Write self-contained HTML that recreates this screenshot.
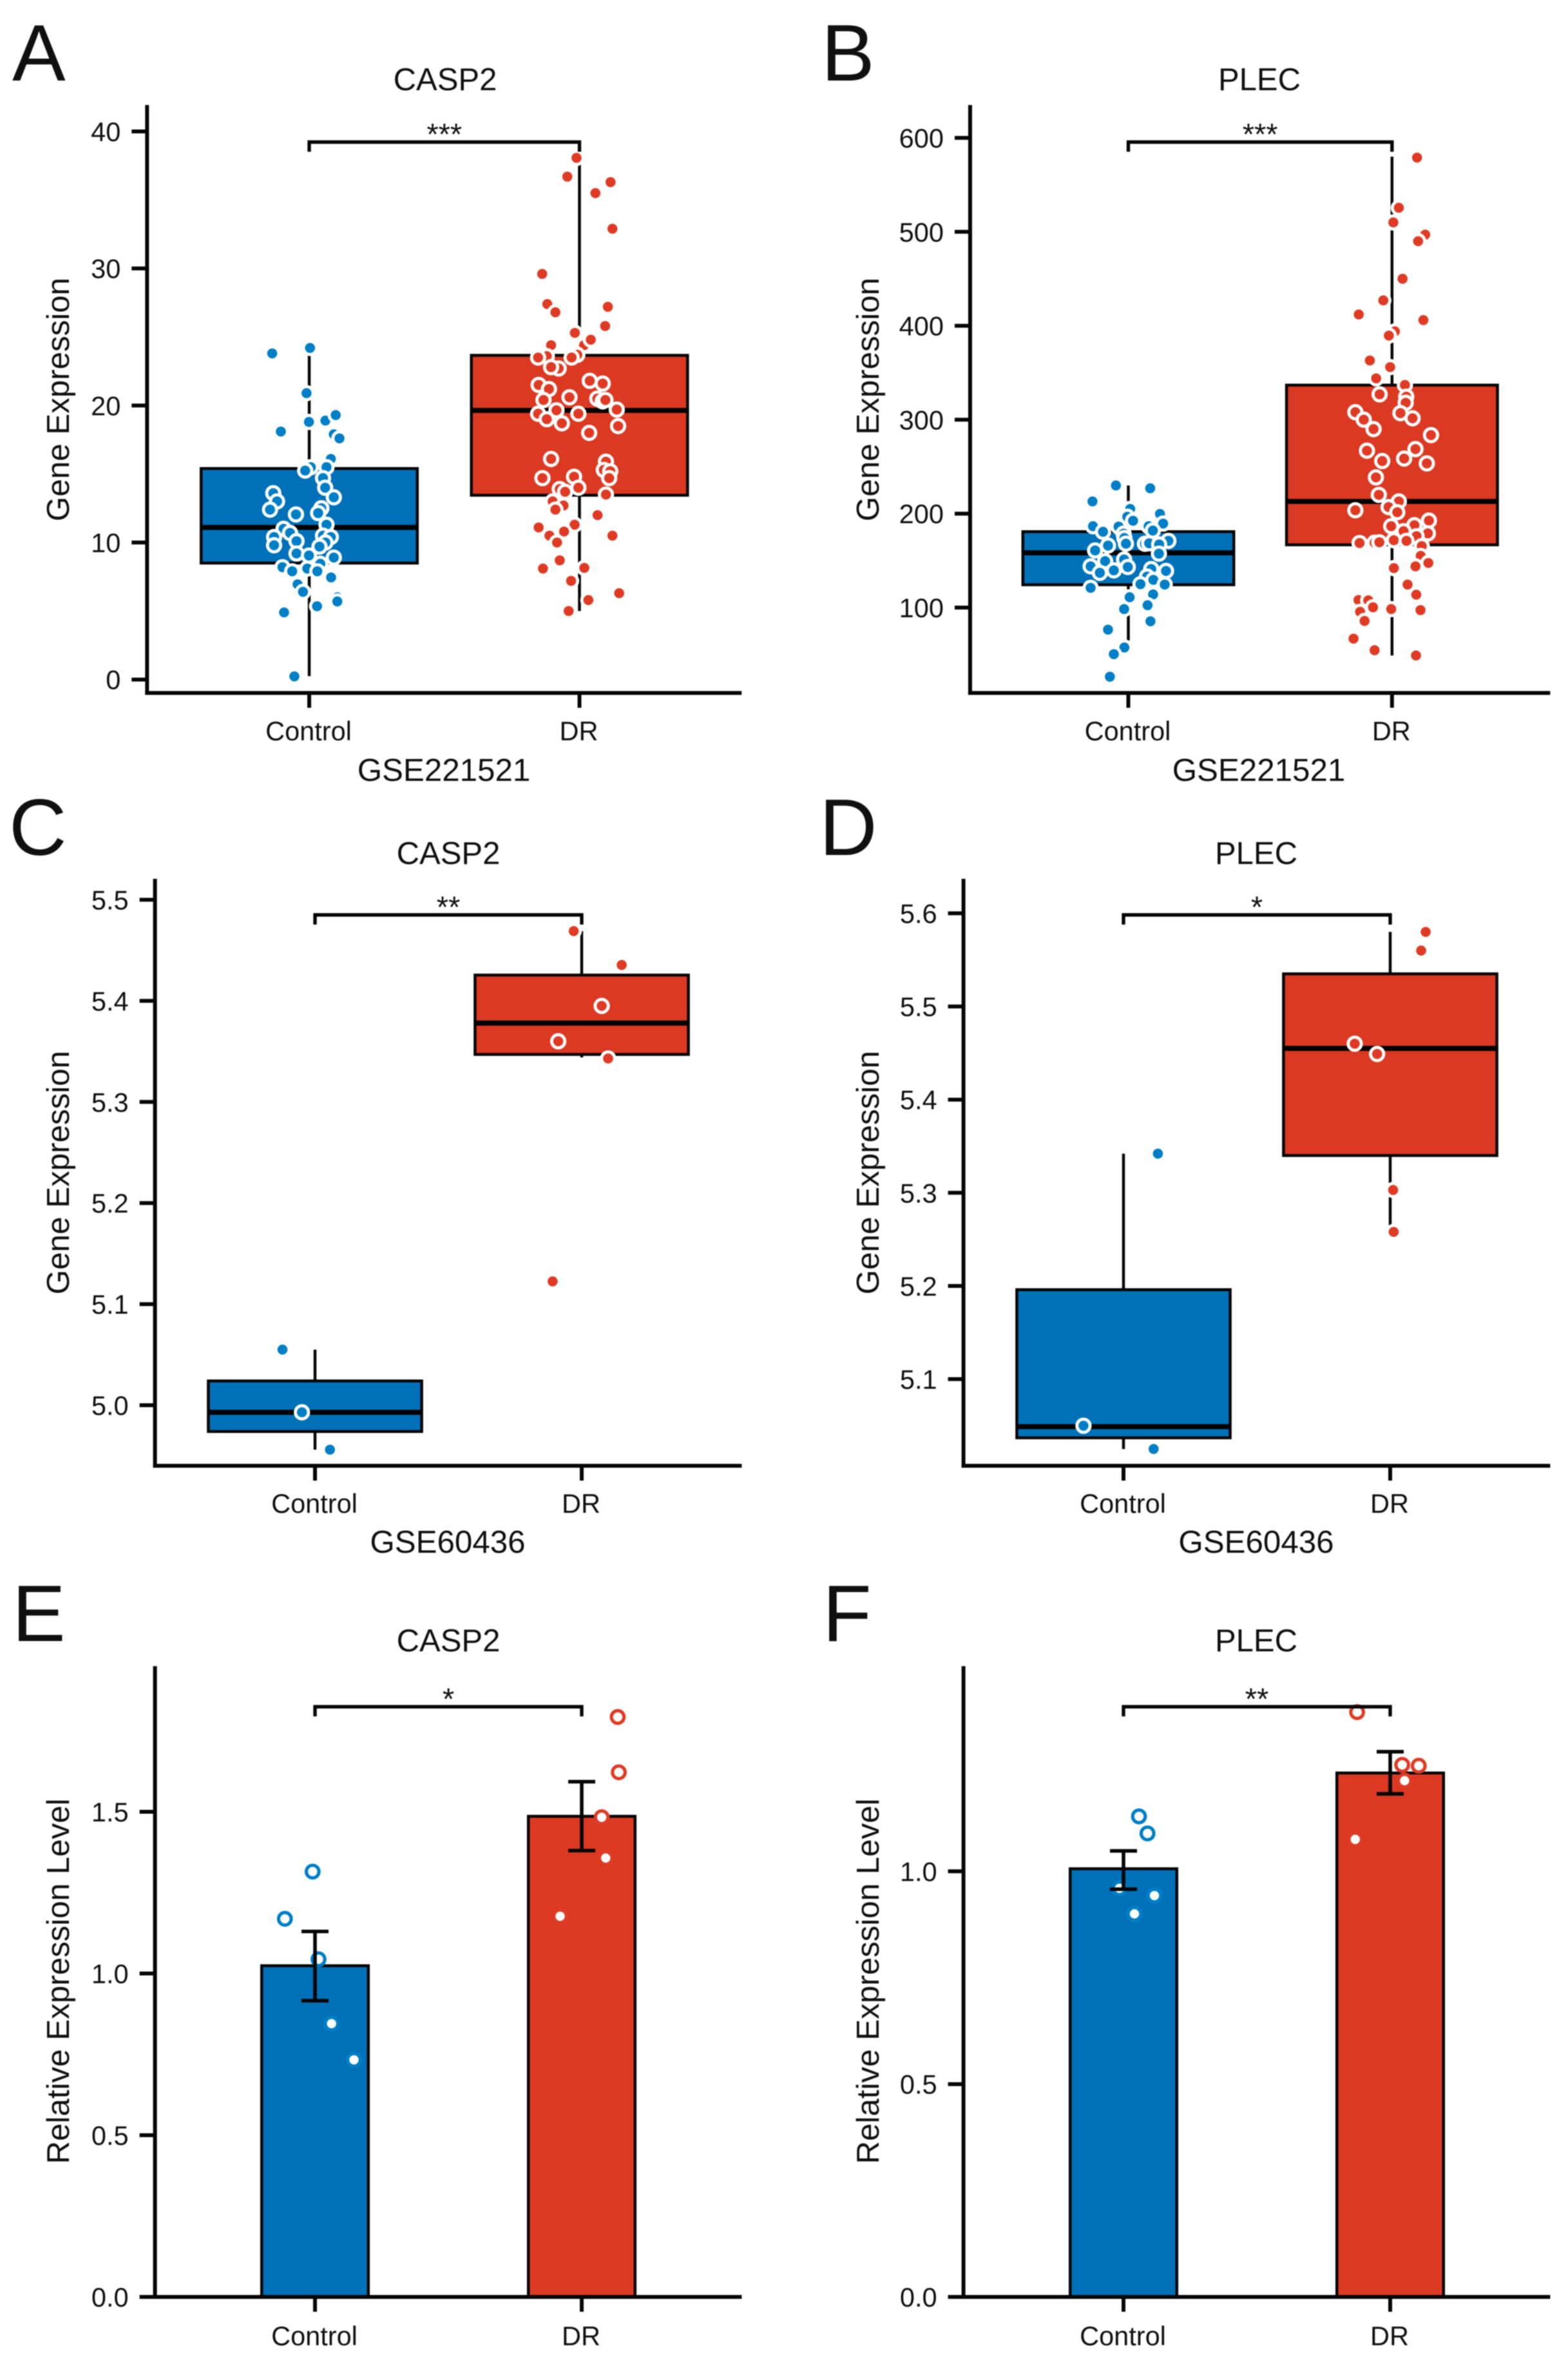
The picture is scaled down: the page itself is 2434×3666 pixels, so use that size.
<!DOCTYPE html>
<html lang="en">
<head>
<meta charset="utf-8">
<title>CASP2 and PLEC expression panels</title>
<style>
  html, body { margin: 0; padding: 0; background: #fff; }
  svg { display: block; filter: blur(0.7px); }
  text { font-family: "Liberation Sans", Arial, sans-serif; fill: #101010; }
  .letter { font-size: 124px; }
  .title { font-size: 49px; text-anchor: middle; }
  .axis-title { font-size: 49.3px; text-anchor: middle; }
  .tick-label { font-size: 41.5px; }
  .stars { font-size: 47px; text-anchor: middle; }
</style>
</head>
<body>
<svg id="figure" xmlns="http://www.w3.org/2000/svg" width="2434" height="3666" viewBox="0 0 2434 3666">
  <rect width="2434" height="3666" fill="#ffffff"/>

  <g id="panel-a">
    <text class="letter" x="19" y="125">A</text>
    <text class="title" x="691" y="140">CASP2</text>
    <text class="axis-title" transform="translate(107,620) rotate(-90)">Gene Expression</text>
    <text class="axis-title" x="689" y="1212">GSE221521</text>
  </g>
  <g id="panel-b">
    <text class="letter" x="1275" y="125">B</text>
    <text class="title" x="1955" y="140">PLEC</text>
    <text class="axis-title" transform="translate(1364,620) rotate(-90)">Gene Expression</text>
    <text class="axis-title" x="1954" y="1212">GSE221521</text>
  </g>
  <g id="panel-c">
    <text class="letter" x="14" y="1327">C</text>
    <text class="title" x="696" y="1341">CASP2</text>
    <text class="axis-title" transform="translate(107,1820) rotate(-90)">Gene Expression</text>
    <text class="axis-title" x="695" y="2410">GSE60436</text>
  </g>
  <g id="panel-d">
    <text class="letter" x="1272" y="1327">D</text>
    <text class="title" x="1950" y="1341">PLEC</text>
    <text class="axis-title" transform="translate(1364,1820) rotate(-90)">Gene Expression</text>
    <text class="axis-title" x="1950" y="2410">GSE60436</text>
  </g>
  <g id="panel-e">
    <text class="letter" x="19" y="2547">E</text>
    <text class="title" x="696" y="2563">CASP2</text>
    <text class="axis-title" transform="translate(107,3075) rotate(-90)">Relative Expression Level</text>
  </g>
  <g id="panel-f">
    <text class="letter" x="1277" y="2547">F</text>
    <text class="title" x="1950" y="2563">PLEC</text>
    <text class="axis-title" transform="translate(1364,3075) rotate(-90)">Relative Expression Level</text>
  </g>
</svg>

<script>
/* ---------- shared categories ---------- */
const categories = ['Control', 'DR'];

/* ---------- panel A: CASP2 / GSE221521 ---------- */
const aTicks = [0, 10, 20, 30, 40];
const aTickLabels = ['0', '10', '20', '30', '40'];
const aSignificance = '***';
const aControlBox = [0.25, 8.5, 11.1, 15.4, 24.2];
const aDrBox = [5.0, 13.45, 19.64, 23.66, 38.1];
const aControlValues = [24.2,23.8,20.9,18.8,18.9,19.3,18.1,17.9,17.6,16.1,15.5,15.25,15.5,14.7,14.0,13.3,13.6,13.0,12.4,12.05,12.5,12.15,11.3,11.0,10.7,10.4,9.8,10.1,10.5,10.4,10.0,9.7,9.2,9.05,8.9,8.45,8.2,7.9,8.1,7.9,7.45,6.95,6.4,6.0,5.7,5.35,4.9,0.23];
const aControlJitter = [.003,-.137,-.01,-.001,.06,.098,-.105,.091,.112,.08,.006,-.015,.064,.051,.059,.091,-.133,-.119,-.145,-.049,.045,.033,.064,-.095,-.071,-.13,-.13,-.047,.051,.08,.06,.038,-.047,-.001,.091,.041,-.099,-.063,-.007,.03,.081,-.043,-.023,.104,.104,.029,-.093,-.055];
const aDrValues = [38.07,36.7,36.3,35.5,32.9,29.6,27.4,26.8,27.2,25.8,25.3,24.4,24.4,24.8,23.6,23.5,23.7,23.5,22.7,22.8,21.5,21.2,21.8,21.6,20.6,20.4,20.5,20.3,20.4,19.7,19.4,19.65,19.0,19.4,18.7,18.5,18.0,16.1,15.9,15.3,15.2,14.7,14.7,14.8,14.0,13.9,13.7,13.5,13.0,12.7,12.4,12.0,11.1,11.3,10.8,10.5,10.5,10.0,8.7,8.1,8.15,7.2,6.3,5.8,5.0];
const aDrJitter = [-.011,-.045,.115,.059,.122,-.138,-.119,-.089,.105,.095,-.017,-.105,.017,.042,-.121,-.153,-.008,-.029,-.077,-.105,-.151,-.113,.038,.086,-.037,-.133,.066,.086,.096,.138,-.153,-.085,-.121,-.004,-.065,.143,.036,-.105,.098,.09,.114,.11,-.137,-.02,-.004,-.073,-.053,.098,-.099,-.059,-.089,.067,-.151,-.018,-.057,-.111,.122,-.083,-.073,-.135,.018,-.031,.147,.033,-.04];

/* ---------- panel B: PLEC / GSE221521 ---------- */
const bTicks = [100, 200, 300, 400, 500, 600];
const bTickLabels = ['100', '200', '300', '400', '500', '600'];
const bSignificance = '***';
const bControlBox = [65, 124.3, 158.3, 180.8, 230];
const bDrBox = [49, 166.8, 213, 336.8, 580];
const bControlValues = [230,227,213,205,199.7,196.7,192.4,189.4,186.6,186.2,186.6,180.7,182,178.7,174,171,166,168,167.9,168.4,167.2,160.8,157.4,149.4,151.2,143.2,143.9,137,139.6,141,139,133,129.5,124.9,124.5,121,114,111,102.5,98.4,85.4,76.5,57.5,50.4,26.4];
const bControlJitter = [-.047,.083,-.136,.007,.12,-.004,.018,.132,-.134,-.037,.077,-.096,.093,-.018,-.015,.152,-.077,-.009,.063,.079,.117,-.126,.116,-.088,-.016,-.002,-.143,-.108,-.055,.087,.143,.071,.095,.046,.138,-.143,.094,.005,.073,-.016,.084,-.077,-.015,-.055,-.07];
const bDrValues = [579,525.6,510,497,490,450,427,412,406,394,389.5,363,356,344,337,327,324.5,318,308,300,290,307,301.5,283.6,267,268.7,256,258.6,253.5,238.6,220,213,207,203.6,201.5,186.6,187.7,192.6,181.3,179,176,168.7,169,169.5,171.7,171,165.4,155,147.5,143.9,142,124.5,113.7,108,107.7,100.3,98.4,97.3,95.5,85.8,66.9,54.6,49];
const bDrJitter = [.095,.026,.005,.126,.099,.04,-.033,-.126,.119,.011,-.012,-.084,-.007,-.06,.049,-.047,.054,.052,-.139,-.107,-.07,.032,.078,.148,-.095,.089,-.037,.046,.132,-.061,-.05,.026,-.013,-.139,.02,-.003,.085,.14,.044,.136,.093,-.123,-.066,-.048,.007,.055,.113,.109,.138,.089,.007,.059,.092,-.127,-.09,-.072,-.003,.108,-.121,-.104,-.146,-.066,.091];

/* ---------- panel C: CASP2 / GSE60436 ---------- */
const cTicks = [5.0, 5.1, 5.2, 5.3, 5.4, 5.5];
const cTickLabels = ['5.0', '5.1', '5.2', '5.3', '5.4', '5.5'];
const cSignificance = '**';
const cControlBox = [4.956, 4.974, 4.993, 5.024, 5.055];
const cDrBox = [5.344, 5.347, 5.378, 5.4255, 5.469];
const cControlValues = [5.055, 4.993, 4.956];
const cControlJitter = [-.122, -.049, .056];
const cDrValues = [5.469, 5.4355, 5.395, 5.36, 5.343, 5.1225];
const cDrJitter = [-.03, .15, .075, -.088, .099, -.109];

/* ---------- panel D: PLEC / GSE60436 ---------- */
const dTicks = [5.1, 5.2, 5.3, 5.4, 5.5, 5.6];
const dTickLabels = ['5.1', '5.2', '5.3', '5.4', '5.5', '5.6'];
const dSignificance = '*';
const dControlBox = [5.025, 5.037, 5.049, 5.196, 5.342];
const dDrBox = [5.264, 5.34, 5.455, 5.535, 5.58];
const dControlValues = [5.342, 5.05, 5.025];
const dControlJitter = [.129, -.15, .113];
const dDrValues = [5.58, 5.56, 5.46, 5.449, 5.303, 5.258];
const dDrJitter = [.133, .116, -.133, -.049, .011, .013];

/* ---------- panel E: CASP2 qPCR ---------- */
const eTicks = [0, 0.5, 1.0, 1.5];
const eTickLabels = ['0.0', '0.5', '1.0', '1.5'];
const eSignificance = '*';
const eMeans = [1.024, 1.486];
const eErrorLow = [0.916, 1.38];
const eErrorHigh = [1.13, 1.593];
const eControlValues = [1.315, 1.169, 1.044, 0.845, 0.733];
const eControlJitter = [-.009, -.113, .013, .062, .146];
const eDrValues = [1.793, 1.622, 1.483, 1.357, 1.177];
const eDrJitter = [.135, .139, .075, .09, -.081];

/* ---------- panel F: PLEC qPCR ---------- */
const fTicks = [0, 0.5, 1.0];
const fTickLabels = ['0.0', '0.5', '1.0'];
const fSignificance = '**';
const fMeans = [1.006, 1.231];
const fErrorLow = [0.958, 1.182];
const fErrorHigh = [1.048, 1.281];
const fControlValues = [1.129, 1.089, 0.96, 0.943, 0.90];
const fControlJitter = [.058, .09, -.015, .116, .041];
const fDrValues = [1.374, 1.25, 1.248, 1.213, 1.075];
const fDrJitter = [-.124, .045, .107, .054, -.131];

/* ---------- drawing ---------- */
const NS = 'http://www.w3.org/2000/svg';
const INK = '#050505';
const BAR_FILL = ['#0071B8', '#DB3922'];
const DOT_FILL = ['#007EC6', '#DF3A24'];

function make(parent, tag, attrs) {
  const node = document.createElementNS(NS, tag);
  for (const key in attrs) node.setAttribute(key, attrs[key]);
  parent.appendChild(node);
  return node;
}

function linearScale(v0, p0, v1, p1) {
  return function (v) { return p0 + (v - v0) * (p1 - p0) / (v1 - v0); };
}

function drawAxes(group, o, y) {
  const axisLeft = o.cat0 - 0.6 * o.step;
  const axisRight = o.cat0 + 1.6 * o.step;
  const yLine = make(group, 'line', { x1: axisLeft, x2: axisLeft, y1: o.top, y2: o.bottom + 3, stroke: INK, 'stroke-width': 6 });
  
  
  const xLine = make(group, 'line', { x1: axisLeft - 3, x2: axisRight, y1: o.bottom, y2: o.bottom, stroke: INK, 'stroke-width': 6 });
  
  

  o.ticks.forEach(function (t, i) {
    const tick = make(group, 'line', { x1: axisLeft - 24, x2: axisLeft, y1: y(t), y2: y(t), stroke: INK, 'stroke-width': 6 });
    
    
    const label = make(group, 'text', { class: 'tick-label', x: axisLeft - 41, y: y(t) + 15, 'text-anchor': 'end' });
    
    
    label.textContent = o.tickLabels[i];
  });

  categories.forEach(function (c, i) {
    const x = o.cat0 + i * o.step;
    const tick = make(group, 'line', { x1: x, x2: x, y1: o.bottom, y2: o.bottom + 23, stroke: INK, 'stroke-width': 6 });
    
    
    const label = make(group, 'text', { class: 'tick-label', x: x - 1, y: o.catLabelY, 'text-anchor': 'middle' });
    
    
    label.textContent = c;
  });
}

function drawBracket(group, o) {
  const xa = o.cat0;
  const xb = o.cat0 + o.step;
  const bracket = make(group, 'path', {
    d: 'M' + xa + ' ' + (o.bracketY + 15) + 'L' + xa + ' ' + o.bracketY + 'L' + xb + ' ' + o.bracketY + 'L' + xb + ' ' + (o.bracketY + 15),
    fill: 'none', stroke: INK, 'stroke-width': 5.4
  });
  
  
  const stars = make(group, 'text', { class: 'stars', x: (xa + xb) / 2, y: o.bracketY + 4 });
  
  
  stars.textContent = o.significance;
}

function drawPoints(group, o, y, index, values, jitter, hollow) {
  const cx = o.cat0 + index * o.step;
  values.forEach(function (v, i) {
    const dot = make(group, 'circle', {
      cx: cx + jitter[i] * o.step, cy: y(v), r: hollow ? 9.8 : 10.2,
      fill: hollow ? '#ffffff' : DOT_FILL[index],
      stroke: hollow ? DOT_FILL[index] : '#ffffff',
      'stroke-width': hollow ? 5.2 : 4.8
    });
    
    
  });
}

function drawBox(group, o, y, index, stats) {
  const cx = o.cat0 + index * o.step;
  const half = 0.4 * o.step;
  const whisker = make(group, 'line', { x1: cx, x2: cx, y1: y(stats[0]), y2: y(stats[4]), stroke: INK, 'stroke-width': 4.5 });
  
  
  const box = make(group, 'rect', { x: cx - half, y: y(stats[3]), width: 2 * half, height: y(stats[1]) - y(stats[3]), fill: BAR_FILL[index], stroke: INK, 'stroke-width': 4.5 });
  
  
  const median = make(group, 'line', { x1: cx - half, x2: cx + half, y1: y(stats[2]), y2: y(stats[2]), stroke: '#000000', 'stroke-width': 7.8 });
  
  
}

function drawBar(group, o, y, index, mean) {
  const cx = o.cat0 + index * o.step;
  const half = 0.2 * o.step;
  const bar = make(group, 'rect', { x: cx - half, y: y(mean), width: 2 * half, height: y(0) - y(mean), fill: BAR_FILL[index], stroke: INK, 'stroke-width': 4.5 });
  
  
}

function drawError(group, o, y, index, low, high) {
  const cx = o.cat0 + index * o.step;
  const err = make(group, 'path', {
    d: 'M' + (cx - 21) + ' ' + y(high) + 'L' + (cx + 21) + ' ' + y(high) + 'M' + cx + ' ' + y(high) + 'L' + cx + ' ' + y(low) + 'M' + (cx - 21) + ' ' + y(low) + 'L' + (cx + 21) + ' ' + y(low),
    fill: 'none', stroke: INK, 'stroke-width': 5.6
  });
  
  
}

function boxPanel(o) {
  const group = document.getElementById(o.id);
  const y = linearScale(o.v0, o.p0, o.v1, o.p1);
  drawBox(group, o, y, 0, o.controlBox);
  drawBox(group, o, y, 1, o.drBox);
  drawPoints(group, o, y, 0, o.controlValues, o.controlJitter, false);
  drawPoints(group, o, y, 1, o.drValues, o.drJitter, false);
  drawAxes(group, o, y);
  drawBracket(group, o);
}

function barPanel(o) {
  const group = document.getElementById(o.id);
  const y = linearScale(o.v0, o.p0, o.v1, o.p1);
  drawBar(group, o, y, 0, o.means[0]);
  drawBar(group, o, y, 1, o.means[1]);
  drawPoints(group, o, y, 0, o.controlValues, o.controlJitter, true);
  drawPoints(group, o, y, 1, o.drValues, o.drJitter, true);
  drawError(group, o, y, 0, o.errorLow[0], o.errorHigh[0]);
  drawError(group, o, y, 1, o.errorLow[1], o.errorHigh[1]);
  drawAxes(group, o, y);
  drawBracket(group, o);
}

boxPanel({ id: 'panel-a', cat0: 480, step: 419.5, top: 163, bottom: 1075.5, v0: 0, p0: 1054.7, v1: 40, p1: 204, catLabelY: 1149, bracketY: 220.5,
  ticks: aTicks, tickLabels: aTickLabels, significance: aSignificance, controlBox: aControlBox, drBox: aDrBox,
  controlValues: aControlValues, controlJitter: aControlJitter, drValues: aDrValues, drJitter: aDrJitter });

boxPanel({ id: 'panel-b', cat0: 1751.5, step: 409.3, top: 163, bottom: 1075.5, v0: 100, p0: 943, v1: 600, p1: 214, catLabelY: 1149, bracketY: 220.5,
  ticks: bTicks, tickLabels: bTickLabels, significance: bSignificance, controlBox: bControlBox, drBox: bDrBox,
  controlValues: bControlValues, controlJitter: bControlJitter, drValues: bDrValues, drJitter: bDrJitter });

boxPanel({ id: 'panel-c', cat0: 489, step: 414, top: 1364, bottom: 2275, v0: 5.0, p0: 2181, v1: 5.5, p1: 1396.5, catLabelY: 2348, bracketY: 1420,
  ticks: cTicks, tickLabels: cTickLabels, significance: cSignificance, controlBox: cControlBox, drBox: cDrBox,
  controlValues: cControlValues, controlJitter: cControlJitter, drValues: cDrValues, drJitter: cDrJitter });

boxPanel({ id: 'panel-d', cat0: 1744, step: 414, top: 1364, bottom: 2275, v0: 5.1, p0: 2140.5, v1: 5.6, p1: 1417.5, catLabelY: 2348, bracketY: 1420,
  ticks: dTicks, tickLabels: dTickLabels, significance: dSignificance, controlBox: dControlBox, drBox: dDrBox,
  controlValues: dControlValues, controlJitter: dControlJitter, drValues: dDrValues, drJitter: dDrJitter });

barPanel({ id: 'panel-e', cat0: 489, step: 414, top: 2586, bottom: 3565, v0: 0, p0: 3565, v1: 1.5, p1: 2812, catLabelY: 3640, bracketY: 2649,
  ticks: eTicks, tickLabels: eTickLabels, significance: eSignificance, means: eMeans, errorLow: eErrorLow, errorHigh: eErrorHigh,
  controlValues: eControlValues, controlJitter: eControlJitter, drValues: eDrValues, drJitter: eDrJitter });

barPanel({ id: 'panel-f', cat0: 1744, step: 414, top: 2586, bottom: 3565, v0: 0, p0: 3565, v1: 1.0, p1: 2904.4, catLabelY: 3640, bracketY: 2649,
  ticks: fTicks, tickLabels: fTickLabels, significance: fSignificance, means: fMeans, errorLow: fErrorLow, errorHigh: fErrorHigh,
  controlValues: fControlValues, controlJitter: fControlJitter, drValues: fDrValues, drJitter: fDrJitter });
</script>
</body>
</html>
